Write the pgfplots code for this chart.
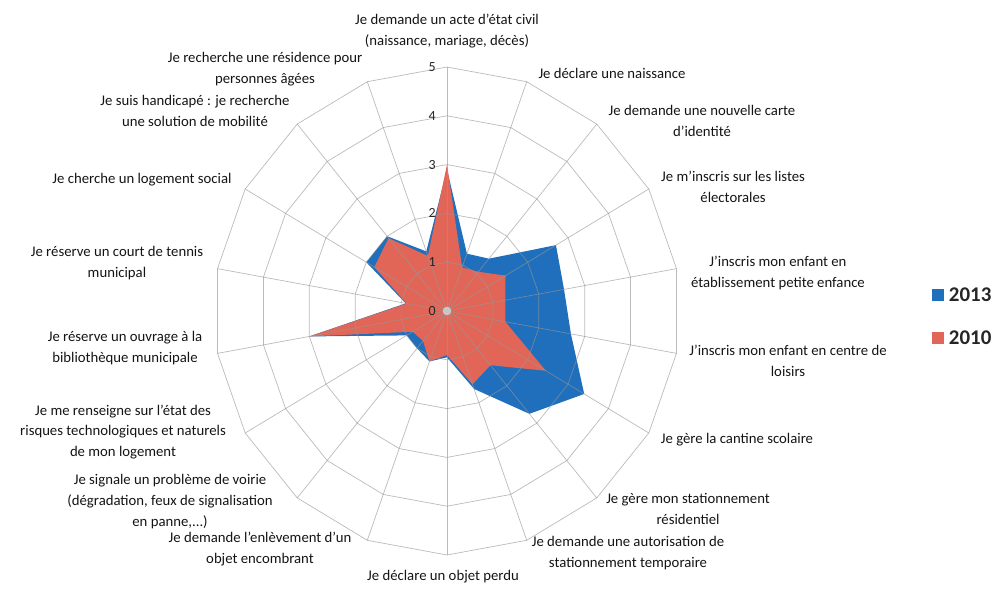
\documentclass[border=0pt]{standalone}
\usepackage{fontspec}
\setmainfont{Carlito}
\usepackage{pgfplots}
\usepackage{pgfplotstable}
\pgfplotsset{compat=1.18}
\usepgfplotslibrary{polar}

\definecolor{c2013}{RGB}{31,111,188}
\definecolor{c2010}{RGB}{226,102,88}
\definecolor{gridc}{RGB}{150,150,150}

% angle (deg), value 2013, value 2010 -- first row repeated to close
\pgfplotstableread{
ang  y2013 y2010
90   2.9   3.0
70   1.25  0.95
50   1.4   1.05
30   2.7   1.45
10   2.55  1.27
-10  2.7   1.27
-30  3.4   2.45
-50  2.75  1.45
-70  1.7   1.6
-90  0.95  0.9
-110 1.1   1.1
-130 1.0   0.8
-150 1.0   0.85
-170 3.0   3.0
-190 0.9   0.88
-210 2.0   1.8
-230 2.0   1.95
-250 1.3   1.2
-270 2.9   3.0
}\radar

\begin{document}
\begin{tikzpicture}[
    lab/.style={align=center, text=black!92, inner sep=0pt,
                font=\fontsize{14.8}{21}\selectfont},
  ]
\begin{axis}[
    name=ax,
    hide axis,
    scale only axis,
    width=1005bp, height=590bp,
    xmin=-9.592, xmax=11.974,
    ymin=-5.717, ymax=6.373,
    clip=false,
    pol/.style={data cs=polar},
]
% series
\addplot[pol, fill=c2013, draw=none] table[x=ang, y=y2013] {\radar};
\addplot[pol, fill=c2010, draw=none] table[x=ang, y=y2010] {\radar};

% grid on top, light
\pgfplotsinvokeforeach{1,2,3,4,5}{
  \addplot[pol, gridc, opacity=0.65, line width=0.7bp] table[x=ang, y expr=#1] {\radar};
}
\pgfplotsinvokeforeach{90,70,50,30,10,-10,-30,-50,-70,-90,-110,-130,-150,-170,170,150,130,110}{
  \addplot[pol, gridc, opacity=0.65, line width=0.7bp] coordinates {(#1,0) (#1,5)};
}
\addplot[only marks, mark=*, mark size=4bp,
  mark options={fill=gray!45, draw=gray!35}] coordinates {(0,0)};

% radial tick labels
\pgfplotsinvokeforeach{0,1,2,3,4,5}{
  \node[anchor=east, inner sep=0pt, text=black!85,
        font=\fontsize{14}{16}\selectfont] at (axis cs:-0.24,#1) {#1};
}

% category labels
\node[lab] at (rel axis cs:0.4448,0.9475) {Je demande un acte d'état civil\\(naissance, mariage, décès)};
\node[lab] at (rel axis cs:0.6090,0.8763) {Je déclare une naissance};
\node[lab] at (rel axis cs:0.6985,0.7949) {Je demande une nouvelle carte\\d'identité};
\node[lab] at (rel axis cs:0.7294,0.6831) {Je m'inscris sur les listes\\électorales};
\node[lab] at (rel axis cs:0.7741,0.5373) {J'inscris mon enfant en\\établissement petite enfance};
\node[lab] at (rel axis cs:0.7841,0.3881) {J'inscris mon enfant en centre de\\loisirs};
\node[lab] at (rel axis cs:0.7333,0.2542) {Je gère la cantine scolaire};
\node[lab] at (rel axis cs:0.6846,0.1373) {Je gère mon stationnement\\résidentiel};
\node[lab] at (rel axis cs:0.6249,0.0627) {Je demande une autorisation de\\stationnement temporaire};
\node[lab] at (rel axis cs:0.4408,0.0220) {Je déclare un objet perdu};
\node[lab] at (rel axis cs:0.2587,0.0695) {Je demande l'enlèvement d'un\\objet encombrant};
\node[lab] at (rel axis cs:0.1692,0.1492) {Je signale un problème de voirie\\(dégradation, feux de signalisation\\en panne,...)};
\node[lab] at (rel axis cs:0.1224,0.2678) {Je me renseigne sur l'état des\\risques technologiques et naturels\\de mon logement};
\node[lab] at (rel axis cs:0.1244,0.4102) {Je réserve un ouvrage à la\\bibliothèque municipale};
\node[lab] at (rel axis cs:0.1164,0.5542) {Je réserve un court de tennis\\municipal};
\node[lab] at (rel axis cs:0.1413,0.6949) {Je cherche un logement social};
\node[lab] at (rel axis cs:0.1940,0.8119) {Je suis handicapé : je recherche\\une solution de mobilité};
\node[lab] at (rel axis cs:0.2637,0.8831) {Je recherche une résidence pour\\personnes âgées};

% legend
\fill[c2013] (rel axis cs:0.9274,0.4898) rectangle (rel axis cs:0.9393,0.5102);
\fill[c2010] (rel axis cs:0.9274,0.4169) rectangle (rel axis cs:0.9393,0.4373);
\node[anchor=west, inner sep=0pt, text=black!85, font=\fontsize{21}{24}\bfseries]
  at (rel axis cs:0.9440,0.5000) {2013};
\node[anchor=west, inner sep=0pt, text=black!85, font=\fontsize{21}{24}\bfseries]
  at (rel axis cs:0.9440,0.4271) {2010};
\end{axis}
\pgfresetboundingbox
\path (ax.south west) rectangle (ax.north east);
\end{tikzpicture}
\end{document}
